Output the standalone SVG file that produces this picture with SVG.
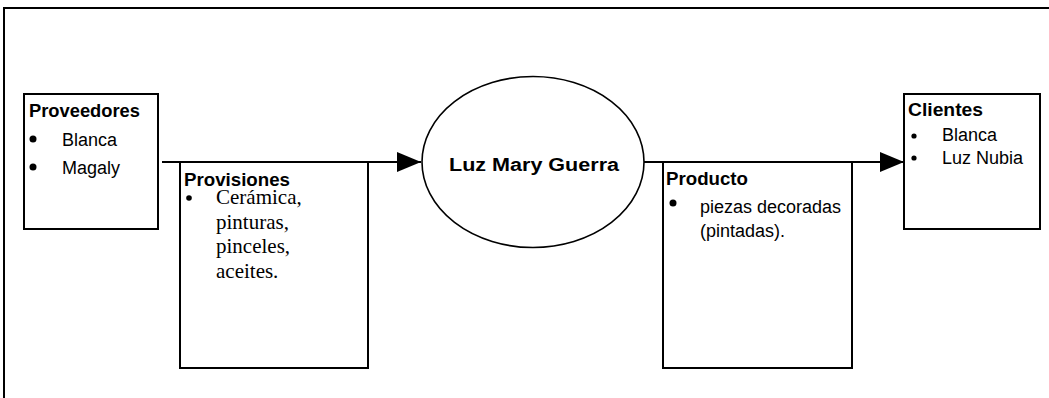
<svg xmlns="http://www.w3.org/2000/svg" width="1049" height="398" viewBox="0 0 1049 398">
  <style>
    .box { fill: #fff; stroke: #000; stroke-width: 2; }
    .line { fill: none; stroke: #000; stroke-width: 2; }
    .head { font-family: "Liberation Sans", Arial, sans-serif; font-weight: bold; font-size: 18px; fill: #000; }
    .item { font-family: "Liberation Sans", Arial, sans-serif; font-size: 18px; fill: #000; }
    .serif { font-family: "Liberation Serif", "Times New Roman", serif; font-size: 21px; fill: #000; }
    .dot { fill: #000; }
  </style>
  <defs>
    <marker id="arrow" markerWidth="24" markerHeight="20" refX="24" refY="10" markerUnits="userSpaceOnUse" orient="auto">
      <path d="M0,0 L24,10 L0,20 Z" fill="#000"/>
    </marker>
  </defs>

  <rect width="1049" height="398" fill="#fff"/>

  <!-- outer frame (top and left edges) -->
  <path class="line" d="M4,398 V8 H1049"/>

  <!-- connectors -->
  <g id="connectors">
    <path class="line" d="M162,162 H421" marker-end="url(#arrow)"/>
    <path class="line" d="M644,162 H904" marker-end="url(#arrow)"/>
  </g>

  <g id="proveedores">
    <rect class="box" x="24" y="94" width="134" height="135"/>
    <text class="head" x="29" y="117" textLength="111" lengthAdjust="spacingAndGlyphs">Proveedores</text>
    <circle class="dot" cx="33" cy="139" r="3.5"/>
    <text class="item" x="62" y="146">Blanca</text>
    <circle class="dot" cx="33" cy="167" r="3.5"/>
    <text class="item" x="62" y="174">Magaly</text>
  </g>

  <g id="provisiones">
    <rect class="box" x="180" y="162" width="188" height="206"/>
    <text class="head" x="184" y="186" textLength="106" lengthAdjust="spacingAndGlyphs">Provisiones</text>
    <circle class="dot" cx="189" cy="198" r="2.8"/>
    <text class="serif" x="216" y="204">Cerámica,</text>
    <text class="serif" x="216" y="228.5">pinturas,</text>
    <text class="serif" x="216" y="253">pinceles,</text>
    <text class="serif" x="216" y="277.5">aceites.</text>
  </g>

  <g id="luz-mary-guerra">
    <ellipse cx="533" cy="162" rx="111" ry="85.5" fill="#fff" stroke="#000" stroke-width="1.6"/>
    <text class="head" x="534" y="171" text-anchor="middle" font-size="21" textLength="170" lengthAdjust="spacingAndGlyphs">Luz Mary Guerra</text>
  </g>

  <g id="producto">
    <rect class="box" x="663" y="162" width="189" height="206"/>
    <text class="head" x="666" y="185" textLength="82" lengthAdjust="spacingAndGlyphs">Producto</text>
    <circle class="dot" cx="673" cy="203" r="3.5"/>
    <text class="item" x="700" y="213">piezas decoradas</text>
    <text class="item" x="700" y="236.5">(pintadas).</text>
  </g>

  <g id="clientes">
    <rect class="box" x="904" y="94" width="136" height="135"/>
    <text class="head" x="908" y="116" textLength="75" lengthAdjust="spacingAndGlyphs">Clientes</text>
    <circle class="dot" cx="914" cy="136" r="2.6"/>
    <text class="item" x="942" y="141">Blanca</text>
    <circle class="dot" cx="914" cy="158" r="2.6"/>
    <text class="item" x="942" y="164">Luz Nubia</text>
  </g>
</svg>
